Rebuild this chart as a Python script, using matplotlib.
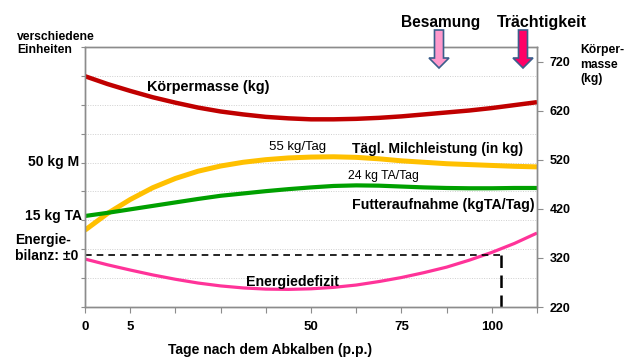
import matplotlib
matplotlib.use("Agg")
import matplotlib.pyplot as plt
from matplotlib.patches import Polygon

plt.rcParams['font.family'] = ['Liberation Sans', 'DejaVu Sans']

# x positions (axis units, 11 ticks) and tick labels
x = [i * 0.5 for i in range(21)]
xtick_pos = list(range(11))
xtick_labels = ['0', '5', '', '', '', '50', '', '75', '', '100', '']

# Körpermasse in kg (right axis)
koerpermasse = [691, 675, 661, 648, 637, 627, 619, 613, 608, 605, 603,
                603, 604, 606, 609, 613, 617, 621, 626, 632, 638]
# remaining curves in left-axis units ("verschiedene Einheiten")
milch = [2.66, 3.24, 3.72, 4.13, 4.45, 4.70, 4.88, 5.01, 5.10, 5.16, 5.19,
         5.20, 5.18, 5.13, 5.06, 5.01, 4.96, 4.93, 4.90, 4.87, 4.85]
futter = [3.15, 3.26, 3.38, 3.50, 3.62, 3.74, 3.85, 3.93, 4.01, 4.08, 4.14,
          4.19, 4.21, 4.20, 4.17, 4.14, 4.12, 4.11, 4.11, 4.12, 4.12]
energie = [1.66, 1.46, 1.28, 1.11, 0.96, 0.83, 0.73, 0.66, 0.62, 0.61, 0.63,
           0.68, 0.76, 0.88, 1.02, 1.19, 1.38, 1.62, 1.89, 2.20, 2.56]
bilanz_null = 1.8
bilanz_x = 9.2
right_ticks = [220, 320, 420, 520, 620, 720]

W, H = 630, 361
fig = plt.figure(figsize=(6.3, 3.61), dpi=100)
ax = fig.add_axes([85 / W, 1 - 307 / H, 452 / W, 260 / H])
ax2 = ax.twinx()

gray = '#8c8c8c'
ax.set_xlim(0, 10)
ax.set_ylim(0, 9)
ax2.set_ylim(220, 750.6)

ax.set_yticks(range(10))
ax.set_yticklabels([])
ax.yaxis.grid(True, linestyle=(0, (1, 1.5)), color='#cfcfcf', linewidth=0.7)
ax.set_xticks(xtick_pos)
ax.set_xticklabels(xtick_labels, fontsize=9.5, fontweight='bold')
ax.tick_params(axis='x', direction='out', length=4, color=gray, pad=6)
ax.tick_params(axis='y', direction='out', length=3, color=gray)
ax2.set_yticks(right_ticks)
ax2.set_yticklabels([str(v) for v in right_ticks], fontsize=9, fontweight='bold')
ax2.tick_params(axis='y', direction='out', length=4, color=gray, pad=5)
for a in (ax, ax2):
    for s in a.spines.values():
        s.set_color(gray)
        s.set_linewidth(1)

# curves
ax.plot(x, milch, color='#FFC000', linewidth=3.6, solid_capstyle='butt')
ax.plot(x, futter, color='#00A000', linewidth=3.0, solid_capstyle='butt')
ax.plot(x, energie, color='#FF3399', linewidth=2.3, solid_capstyle='butt')
ax2.plot(x, koerpermasse, color='#C00000', linewidth=3.2, solid_capstyle='butt')

# energy balance dashed lines
ax.plot([0, bilanz_x], [bilanz_null, bilanz_null], color='black', linewidth=1.2,
        linestyle=(0, (4, 3)))
ax.plot([bilanz_x, bilanz_x], [bilanz_null, -0.2], color='black', linewidth=1.8,
        linestyle=(0, (5, 3)), clip_on=False)

# curve labels
ax.text(2.72, 7.6, 'Körpermasse (kg)', fontsize=10.4, fontweight='bold', ha='center', va='center')
ax.text(4.7, 5.55, '55 kg/Tag', fontsize=9.5, ha='center', va='center')
ax.text(7.81, 5.47, 'Tägl. Milchleistung (in kg)', fontsize=10, fontweight='bold',
        ha='center', va='center')
ax.text(6.6, 4.52, '24 kg TA/Tag', fontsize=8.8, ha='center', va='center')
ax.text(9.95, 3.52, 'Futteraufnahme (kgTA/Tag)', fontsize=10.2, fontweight='bold',
        ha='right', va='center')
ax.text(4.6, 0.87, 'Energiedefizit', fontsize=10.2, fontweight='bold', ha='center', va='center')

# left side labels
fig.text(17 / W, 1 - 43.5 / H, 'verschiedene\nEinheiten', fontsize=8.7, fontweight='bold',
         ha='left', va='center', linespacing=1.15)
fig.text(79 / W, 1 - 162 / H, '50 kg M', fontsize=10, fontweight='bold', ha='right', va='center')
fig.text(82 / W, 1 - 216 / H, '15 kg TA', fontsize=10, fontweight='bold', ha='right', va='center')
fig.text(15 / W, 1 - 240 / H, 'Energie-', fontsize=10, fontweight='bold', ha='left', va='center')
fig.text(15 / W, 1 - 256 / H, 'bilanz: ±0', fontsize=10, fontweight='bold', ha='left', va='center')

# right axis label
fig.text(580 / W, 1 - 64.5 / H, 'Körper-\nmasse\n(kg)', fontsize=8.7, fontweight='bold',
         ha='left', va='center', linespacing=1.28)

# x label
fig.text(270 / W, 1 - 350 / H, 'Tage nach dem Abkalben (p.p.)', fontsize=10,
         fontweight='bold', ha='center', va='center')

# event arrows
def arrow(cx, fc):
    top, tip, head = 30, 68, 10
    pts = [(cx - 4.5, top), (cx + 4.5, top), (cx + 4.5, tip - head), (cx + 10, tip - head),
           (cx, tip), (cx - 10, tip - head), (cx - 4.5, tip - head)]
    pts = [(px / W, 1 - py / H) for px, py in pts]
    fig.add_artist(Polygon(pts, closed=True, facecolor=fc, edgecolor='#3B5E8C',
                           linewidth=1.2, transform=fig.transFigure))

arrow(439, '#FF99CC')
arrow(523, '#FF0066')
fig.text(441 / W, 1 - 22 / H, 'Besamung', fontsize=11.2, fontweight='bold', ha='center', va='center')
fig.text(541.5 / W, 1 - 22 / H, 'Trächtigkeit', fontsize=11.5, fontweight='bold', ha='center', va='center')

fig.savefig('out.png', dpi=100)
